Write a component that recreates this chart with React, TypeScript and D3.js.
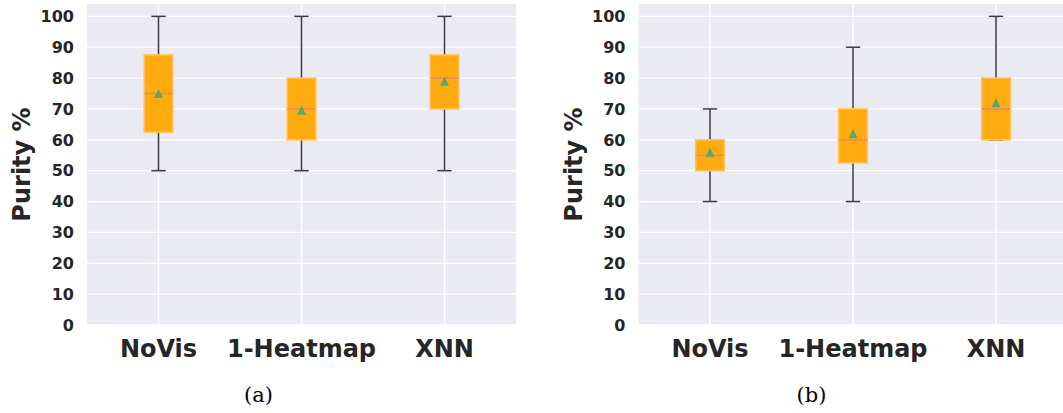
import React from "react";
import * as d3 from "d3";

// categories shown on both panels
const categories = ["NoVis", "1-Heatmap", "XNN"];
const yTicks = [0, 10, 20, 30, 40, 50, 60, 70, 80, 90, 100];

// panel (a)
const lowA = [50, 50, 50];
const q1A = [62.5, 60, 70];
const medA = [75, 70, 80];
const q3A = [87.5, 80, 87.5];
const highA = [100, 100, 100];
const meanA = [75, 69.6, 79];

// panel (b)
const lowB = [40, 40, 60];
const q1B = [50, 52.5, 60];
const medB = [55, 60, 70];
const q3B = [60, 70, 80];
const highB = [70, 90, 100];
const meanB = [56, 62, 72];

interface BoxStat {
  cat: string;
  low: number;
  q1: number;
  med: number;
  q3: number;
  high: number;
  mean: number;
}

const makeStats = (low: number[], q1: number[], med: number[], q3: number[], high: number[], mean: number[]): BoxStat[] =>
  categories.map((cat, i) => ({ cat, low: low[i], q1: q1[i], med: med[i], q3: q3[i], high: high[i], mean: mean[i] }));

const panels = [
  { caption: "(a)", left: 87, captionX: 258.5, stats: makeStats(lowA, q1A, medA, q3A, highA, meanA) },
  { caption: "(b)", left: 638.5, captionX: 811.5, stats: makeStats(lowB, q1B, medB, q3B, highB, meanB) },
];

const W = 1063;
const H = 413;
const plotW = 429;
const top = 4;
const bottom = 325;
const font = "'DejaVu Sans', sans-serif";
const textColor = "#262626";

const Panel: React.FC<{ p: (typeof panels)[number] }> = ({ p }) => {
  const x = d3.scaleLinear().domain([0.5, categories.length + 0.5]).range([p.left, p.left + plotW]);
  const y = d3.scaleLinear().domain([0, 104]).range([bottom, top]);
  const boxW = x(1.2) - x(1);
  const capW = boxW / 2;
  const tri = 4.5;

  return (
    <g>
      <rect x={p.left} y={top} width={plotW} height={bottom - top} fill="#eaeaf2" />
      {yTicks.map((t) => (
        <line key={"h" + t} x1={p.left} x2={p.left + plotW} y1={y(t)} y2={y(t)} stroke="#ffffff" strokeWidth={1.3} />
      ))}
      {categories.map((c, i) => (
        <line key={"v" + c} x1={x(i + 1)} x2={x(i + 1)} y1={top} y2={bottom} stroke="#ffffff" strokeWidth={1.3} />
      ))}
      {yTicks.map((t) => (
        <text key={"t" + t} x={p.left - 13} y={y(t)} dy="0.36em" textAnchor="end" fontFamily={font} fontWeight="bold" fontSize={16} fill={textColor}>
          {t}
        </text>
      ))}
      {categories.map((c, i) => (
        <text key={"c" + c} x={x(i + 1)} y={357} textAnchor="middle" fontFamily={font} fontWeight="bold" fontSize={24} fill={textColor}>
          {c}
        </text>
      ))}
      <text
        transform={`translate(${p.left - 57},${(top + bottom) / 2}) rotate(-90)`}
        textAnchor="middle"
        fontFamily={font}
        fontWeight="bold"
        fontSize={24}
        fill={textColor}
      >
        Purity %
      </text>
      {p.stats.map((s, i) => {
        const cx = x(i + 1);
        return (
          <g key={"b" + s.cat}>
            <line x1={cx} x2={cx} y1={y(s.low)} y2={y(s.high)} stroke="#3a3a3a" strokeWidth={1.5} />
            <line x1={cx - capW / 2} x2={cx + capW / 2} y1={y(s.high)} y2={y(s.high)} stroke="#3a3a3a" strokeWidth={1.5} />
            <line x1={cx - capW / 2} x2={cx + capW / 2} y1={y(s.low)} y2={y(s.low)} stroke="#3a3a3a" strokeWidth={1.5} />
            <rect x={cx - boxW / 2} y={y(s.q3)} width={boxW} height={y(s.q1) - y(s.q3)} fill="#ffaa0e" stroke="#ffc25a" strokeWidth={1.6} />
            <line x1={cx - boxW / 2} x2={cx + boxW / 2} y1={y(s.med)} y2={y(s.med)} stroke="#e9866a" strokeWidth={1.5} />
            <path
              d={`M${cx},${y(s.mean) - tri}L${cx + tri},${y(s.mean) + tri}L${cx - tri},${y(s.mean) + tri}Z`}
              fill="#55a868"
            />
          </g>
        );
      })}
      <text x={p.captionX} y={402} textAnchor="middle" fontFamily="'DejaVu Serif', serif" fontSize={21} fill="#000">
        {p.caption}
      </text>
    </g>
  );
};

export default function App() {
  return (
    <svg width={W} height={H} style={{ position: "absolute", left: 0, top: 0, background: "#fff" }}>
      {panels.map((p) => (
        <Panel key={p.caption} p={p} />
      ))}
    </svg>
  );
}
